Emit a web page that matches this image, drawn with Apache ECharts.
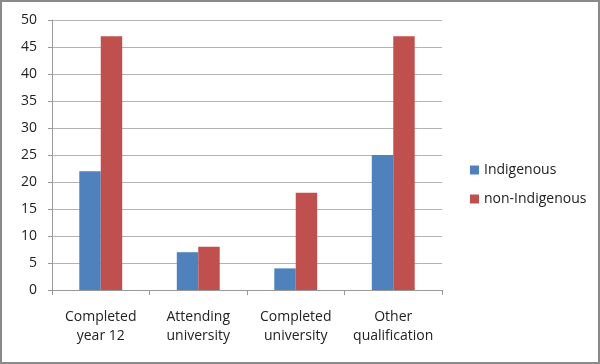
<!DOCTYPE html>
<html><head><meta charset="utf-8">
<script src="https://cdn.jsdelivr.net/npm/echarts@6/dist/echarts.min.js"></script>
<style>html,body{margin:0;padding:0;background:#fff}#c{width:600px;height:364px;box-sizing:border-box;border:2px solid #8a8a8a}</style>
</head><body><div id="c"></div>
<script>
const categories = ["Completed\nyear 12", "Attending\nuniversity", "Completed\nuniversity", "Other\nqualification"];
const indigenous = [22, 7, 4, 25];
const nonIndigenous = [47, 8, 18, 47];
const yTicks = [0, 5, 10, 15, 20, 25, 30, 35, 40, 45, 50];
const seriesNames = ["Indigenous", "non-Indigenous"];

const chart = echarts.init(document.getElementById('c'));
const font = "'Open Sans', 'Noto Sans', sans-serif";
chart.setOption({
  animation: false,
  textStyle: {fontFamily: font},
  grid: {left: 50, top: 18, right: 156, bottom: 72},
  legend: {
    orient: 'vertical', left: 463, top: 156, itemWidth: 9, itemHeight: 9, itemGap: 15,
    icon: 'rect',
    textStyle: {fontSize: 14, color: '#222', fontFamily: font},
    data: seriesNames
  },
  xAxis: {
    type: 'category', data: categories,
    axisLine: {lineStyle: {color: '#999'}},
    axisTick: {show: true, length: 5, lineStyle: {color: '#999'}},
    axisLabel: {fontSize: 14, color: '#222', lineHeight: 19, margin: 18, interval: 0}
  },
  yAxis: {
    type: 'value', min: yTicks[0], max: yTicks[yTicks.length - 1], interval: 5,
    axisLine: {show: true, lineStyle: {color: '#999'}},
    axisTick: {show: true, length: 4, lineStyle: {color: '#999'}},
    splitLine: {lineStyle: {color: '#b4b4b4'}},
    axisLabel: {fontSize: 14, color: '#222', margin: 15}
  },
  series: [
    {name: seriesNames[0], type: 'bar', data: indigenous, itemStyle: {color: '#4F81BD'}, barGap: '0%', barCategoryGap: '56%'},
    {name: seriesNames[1], type: 'bar', data: nonIndigenous, itemStyle: {color: '#C0504D'}, barGap: '0%', barCategoryGap: '56%'}
  ]
});
</script></body></html>
